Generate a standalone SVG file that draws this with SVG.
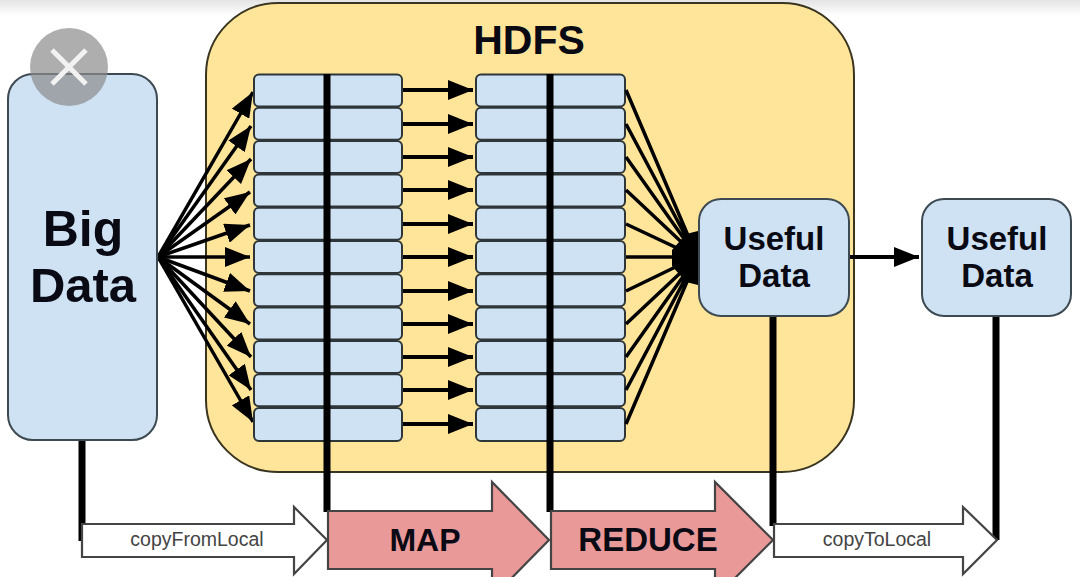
<svg xmlns="http://www.w3.org/2000/svg" width="1080" height="577" viewBox="0 0 1080 577">
<style>
.box{fill:#cfe2f3;stroke:#3d4a52;stroke-width:2}
.cell{fill:#cfe2f3;stroke:#2e363a;stroke-width:2}
.t{font-family:"Liberation Sans",Arial,sans-serif;text-anchor:middle;fill:#0a0a14}
.b{font-weight:700}
.s{font-size:19.500px;fill:#444}
.a{stroke:#000;stroke-width:4;fill:none}
.f{stroke:#000;stroke-width:3.5;fill:none}
.v{stroke:#000;stroke-width:7;fill:none}
.ar{stroke:#444;stroke-width:2.2;stroke-linejoin:miter}
</style>
<defs>
<linearGradient id="top" x1="0" y1="0" x2="0" y2="1"><stop offset="0" stop-color="#e4e4e4"/><stop offset="1" stop-color="#fff"/></linearGradient>
<marker id="h" markerUnits="userSpaceOnUse" markerWidth="26" markerHeight="20" refX="25" refY="10" orient="auto"><path d="M0 0L25 10L0 20Z" fill="#000"/></marker>
</defs>
<rect width="1080" height="577" fill="#fff"/>
<rect width="1080" height="16" fill="url(#top)"/>
<g id="hdfs"><rect x="206" y="3" width="648" height="469" rx="72" fill="#ffe599" stroke="#3a3520" stroke-width="2"/>
<text class="t b" x="529" y="54" font-size="41">HDFS</text></g>
<g id="connectors">
<g class="f" marker-end="url(#h)">
<line x1="158" y1="257" x2="253" y2="92" marker-end="url(#h)"/><line x1="158" y1="257" x2="251" y2="126" marker-end="url(#h)"/><line x1="158" y1="257" x2="251" y2="159" marker-end="url(#h)"/><line x1="158" y1="257" x2="250" y2="192" marker-end="url(#h)"/><line x1="158" y1="257" x2="250" y2="225" marker-end="url(#h)"/><line x1="158" y1="257" x2="250" y2="257" marker-end="url(#h)"/><line x1="158" y1="257" x2="250" y2="291" marker-end="url(#h)"/><line x1="158" y1="257" x2="250" y2="324" marker-end="url(#h)"/><line x1="158" y1="257" x2="251" y2="357" marker-end="url(#h)"/><line x1="158" y1="257" x2="251" y2="390" marker-end="url(#h)"/><line x1="158" y1="257" x2="253" y2="422" marker-end="url(#h)"/>
</g>
</g>
<g id="map-cells">
<rect class="cell" x="254" y="74.500" width="148" height="32" rx="5"/><rect class="cell" x="254" y="107.800" width="148" height="32" rx="5"/><rect class="cell" x="254" y="141.100" width="148" height="32" rx="5"/><rect class="cell" x="254" y="174.400" width="148" height="32" rx="5"/><rect class="cell" x="254" y="207.700" width="148" height="32" rx="5"/><rect class="cell" x="254" y="241" width="148" height="32" rx="5"/><rect class="cell" x="254" y="274.300" width="148" height="32" rx="5"/><rect class="cell" x="254" y="307.600" width="148" height="32" rx="5"/><rect class="cell" x="254" y="340.900" width="148" height="32" rx="5"/><rect class="cell" x="254" y="374.200" width="148" height="32" rx="5"/><rect class="cell" x="254" y="408" width="148" height="33" rx="5"/>
</g>
<g id="reduce-cells">
<rect class="cell" x="476" y="74.500" width="149" height="32" rx="5"/><rect class="cell" x="476" y="107.800" width="149" height="32" rx="5"/><rect class="cell" x="476" y="141.100" width="149" height="32" rx="5"/><rect class="cell" x="476" y="174.400" width="149" height="32" rx="5"/><rect class="cell" x="476" y="207.700" width="149" height="32" rx="5"/><rect class="cell" x="476" y="241" width="149" height="32" rx="5"/><rect class="cell" x="476" y="274.300" width="149" height="32" rx="5"/><rect class="cell" x="476" y="307.600" width="149" height="32" rx="5"/><rect class="cell" x="476" y="340.900" width="149" height="32" rx="5"/><rect class="cell" x="476" y="374.200" width="149" height="32" rx="5"/><rect class="cell" x="476" y="408" width="149" height="33" rx="5"/>
</g>
<g id="connectors-mid">
<g class="a">
<line x1="403" y1="90" x2="473" y2="90" marker-end="url(#h)"/><line x1="403" y1="124" x2="473" y2="124" marker-end="url(#h)"/><line x1="403" y1="157" x2="473" y2="157" marker-end="url(#h)"/><line x1="403" y1="190" x2="473" y2="190" marker-end="url(#h)"/><line x1="403" y1="224" x2="473" y2="224" marker-end="url(#h)"/><line x1="403" y1="257" x2="473" y2="257" marker-end="url(#h)"/><line x1="403" y1="291" x2="473" y2="291" marker-end="url(#h)"/><line x1="403" y1="324" x2="473" y2="324" marker-end="url(#h)"/><line x1="403" y1="357" x2="473" y2="357" marker-end="url(#h)"/><line x1="403" y1="390" x2="473" y2="390" marker-end="url(#h)"/><line x1="403" y1="424" x2="473" y2="424" marker-end="url(#h)"/>
</g>
<path class="f" d="M626 90L692 245M626 124L692 248M626 157L692 250M626 190L692 252M626 224L692 255M626 257L692 257M626 291L692 259M626 324L692 262M626 357L692 264M626 390L692 266M626 424L692 270"/>
<path d="M698 231L686 234L672 250V266L686 282L698 285Z" fill="#000"/>
<line class="a" x1="850" y1="257" x2="919" y2="257" marker-end="url(#h)"/>
<path class="v" d="M327 74V512M550 74V512M773 316V526M996 316V540M82 440V541"/>
</g>
<g id="big-data"><rect class="box" x="8" y="74" width="149" height="366" rx="25"/>
<text class="t b" x="83" y="246" font-size="50">Big</text><text class="t b" x="83" y="302" font-size="49">Data</text></g>
<g id="useful-1"><rect class="box" x="699" y="199" width="150" height="117" rx="22"/>
<text class="t b" x="774" y="250" font-size="33">Useful</text><text class="t b" x="774" y="287" font-size="33">Data</text></g>
<g id="useful-2"><rect class="box" x="922" y="199" width="149" height="117" rx="22"/>
<text class="t b" x="997" y="250" font-size="33">Useful</text><text class="t b" x="997" y="287" font-size="33">Data</text></g>
<g id="copy-from"><path class="ar" fill="#fff" d="M82 524H294V507L327 540L294 574V557H82Z"/>
<text class="t s" x="197" y="546">copyFromLocal</text></g>
<g id="map"><path class="ar" fill="#ea9999" d="M328 511H492V482L549 540L492 598V569H328Z"/>
<text class="t b" x="425" y="551" font-size="32">MAP</text></g>
<g id="reduce"><path class="ar" fill="#ea9999" d="M551 511H715V482L773 540L715 598V569H551Z"/>
<text class="t b" x="648" y="551" font-size="33">REDUCE</text></g>
<g id="copy-to"><path class="ar" fill="#fff" d="M774 524H963V507L997 540L963 574V557H774Z"/>
<text class="t s" x="877" y="546">copyToLocal</text></g>
<g id="close"><circle cx="69" cy="67" r="39" fill="#8c8c8c" fill-opacity=".7"/>
<path d="M52 50L86 84M86 50L52 84" stroke="#f2f2f2" stroke-width="5" fill="none"/></g>
</svg>
